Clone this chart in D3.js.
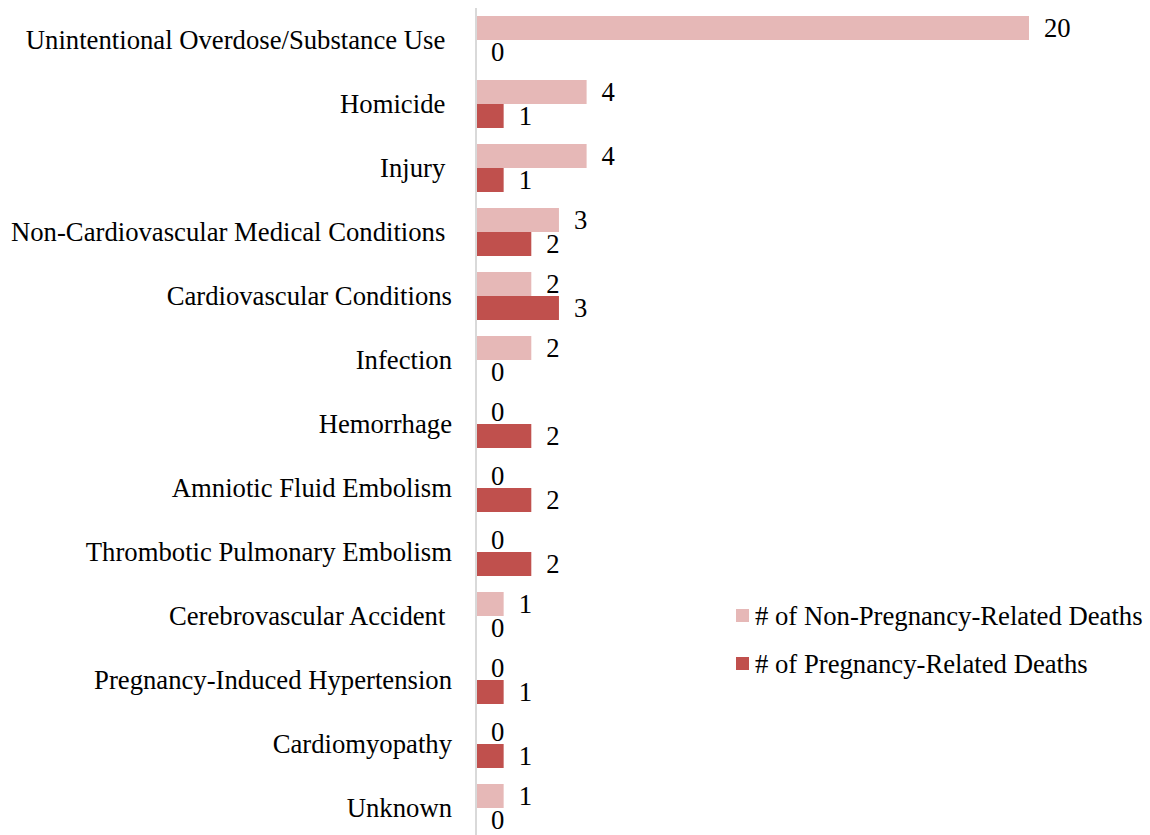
<!DOCTYPE html>
<html>
<head>
<meta charset="utf-8">
<script src="https://cdn.jsdelivr.net/npm/d3@7"></script>
<style>
  body { margin: 0; background: #fff; }
  text { font-family: "Liberation Serif", "Times New Roman", serif; fill: #000; }
</style>
</head>
<body>
<svg id="chart" width="1150" height="835"></svg>
<script>
// categories, top to bottom (trailing spaces kept as in the source labels)
var categories = [
  "Unintentional Overdose/Substance Use ",
  "Homicide ",
  "Injury ",
  "Non-Cardiovascular Medical Conditions ",
  "Cardiovascular Conditions",
  "Infection",
  "Hemorrhage",
  "Amniotic Fluid Embolism",
  "Thrombotic Pulmonary Embolism",
  "Cerebrovascular Accident ",
  "Pregnancy-Induced Hypertension",
  "Cardiomyopathy",
  "Unknown"
];
var nonPregnancyDeaths = [20, 4, 4, 3, 2, 2, 0, 0, 0, 1, 0, 0, 1];
var pregnancyDeaths    = [0, 1, 1, 2, 3, 0, 2, 2, 2, 0, 1, 1, 0];
var seriesNames = ["# of Non-Pregnancy-Related Deaths", "# of Pregnancy-Related Deaths"];
var seriesColors = ["#e6b8b7", "#c0504d"];

var fontSize = "26.7px";
var svg = d3.select("#chart");

var x = d3.scaleLinear().domain([0, 20]).range([476, 1029]);
var y = d3.scaleBand().domain(d3.range(categories.length))
  .range([8, 840]).paddingInner(0.25).paddingOuter(0.125);
var ySub = d3.scaleBand().domain([0, 1]).range([0, y.bandwidth()]);

var rows = categories.map(function(c, i){
  return {cat: c, i: i, vals: [nonPregnancyDeaths[i], pregnancyDeaths[i]]};
});

// category labels
svg.append("g").selectAll("text").data(rows).enter().append("text")
  .attr("x", 452)
  .attr("y", function(d){ return y(d.i) + y.bandwidth()/2; })
  .attr("text-anchor", "end")
  .attr("dominant-baseline", "central")
  .style("white-space", "pre")
  .style("font-size", fontSize)
  .text(function(d){ return d.cat; });

// bars + value labels
var groups = svg.append("g").selectAll("g").data(rows).enter().append("g")
  .attr("transform", function(d){ return "translate(0," + y(d.i) + ")"; });

var cells = groups.selectAll("g").data(function(d){
  return d.vals.map(function(v, k){ return {v: v, k: k}; });
}).enter().append("g");

cells.append("rect")
  .attr("x", x(0))
  .attr("y", function(d){ return ySub(d.k); })
  .attr("width", function(d){ return x(d.v) - x(0); })
  .attr("height", ySub.bandwidth())
  .attr("fill", function(d){ return seriesColors[d.k]; });

cells.append("text")
  .attr("x", function(d){ return x(d.v) + 15; })
  .attr("y", function(d){ return ySub(d.k) + ySub.bandwidth()/2; })
  .attr("dominant-baseline", "central")
  .style("font-size", fontSize)
  .text(function(d){ return d.v; });

// vertical axis line
svg.append("line")
  .attr("x1", x(0)).attr("x2", x(0))
  .attr("y1", 8).attr("y2", 835)
  .attr("stroke", "#d9d9d9")
  .attr("stroke-width", 2);

// legend
var legend = svg.append("g").selectAll("g").data(seriesNames).enter().append("g")
  .attr("transform", function(d, i){ return "translate(736," + (616 + i*48) + ")"; });
legend.append("rect")
  .attr("x", 0).attr("y", -7)
  .attr("width", 13).attr("height", 13)
  .attr("fill", function(d, i){ return seriesColors[i]; });
legend.append("text")
  .attr("x", 19).attr("y", 0)
  .attr("dominant-baseline", "central")
  .style("font-size", fontSize)
  .text(function(d){ return d; });
</script>
</body>
</html>
